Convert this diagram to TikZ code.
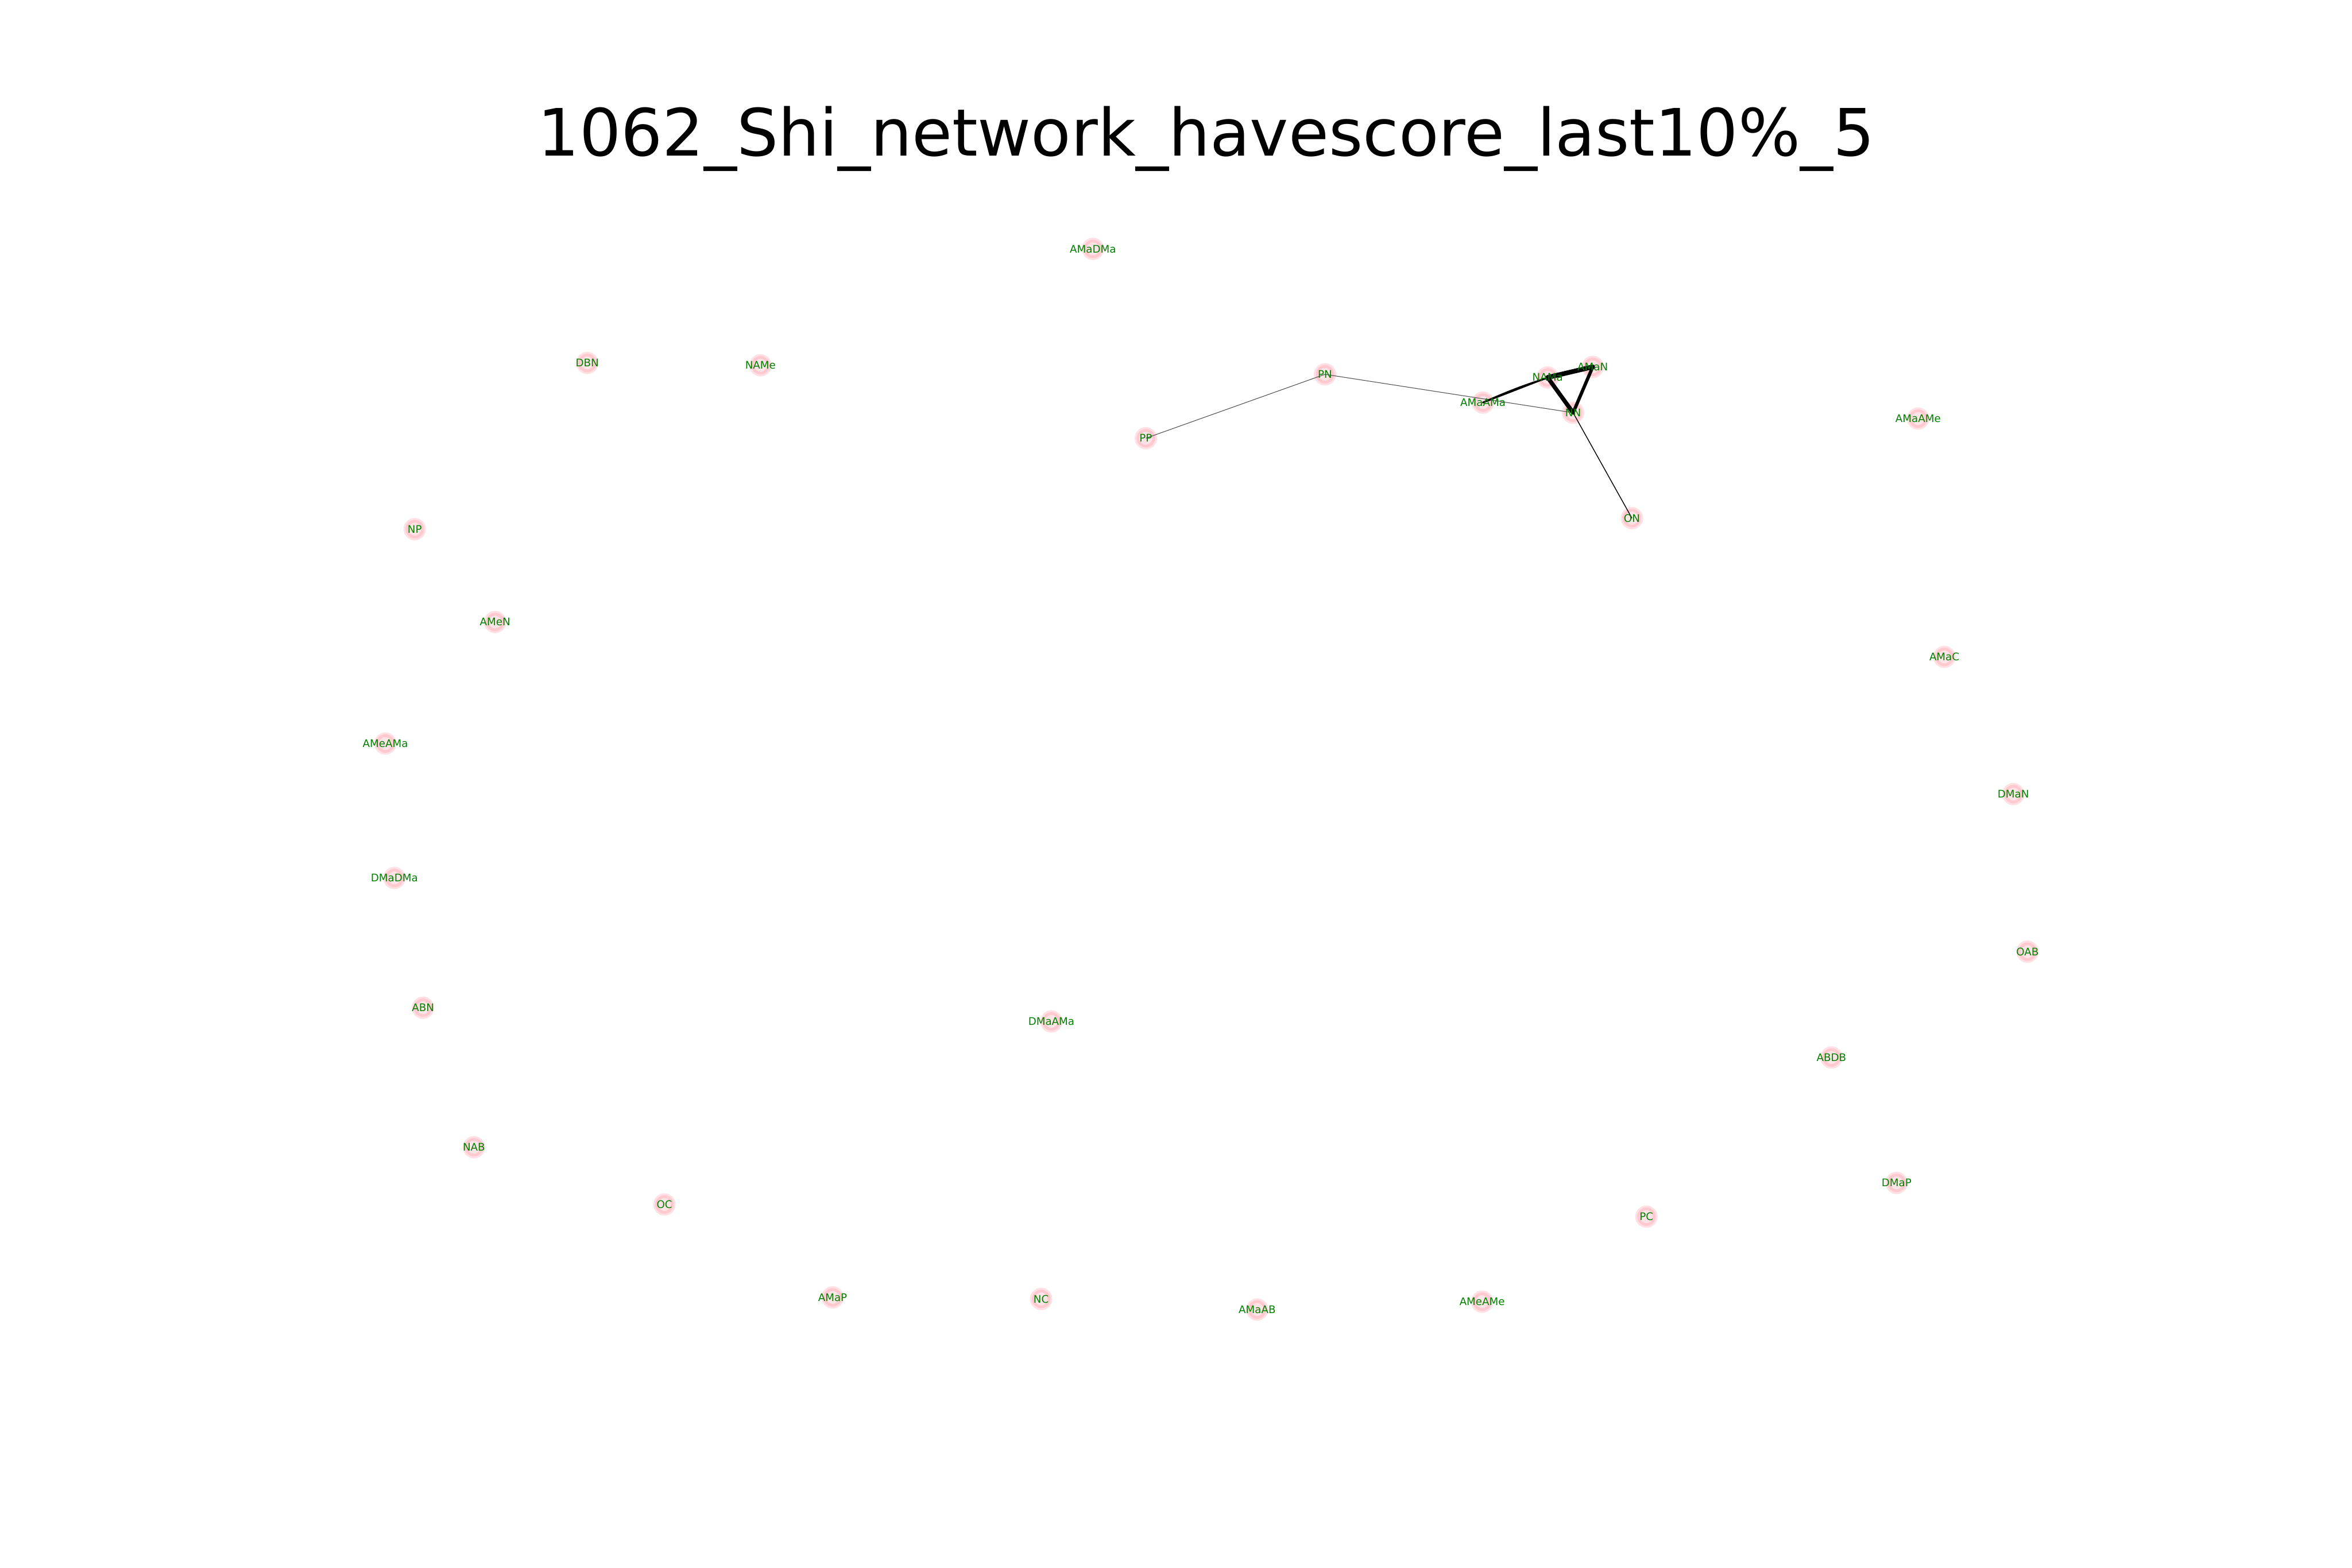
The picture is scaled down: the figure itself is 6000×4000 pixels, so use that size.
\documentclass[tikz,border=0pt]{standalone}
\usepackage{fontspec}
\setmainfont{DejaVu Sans}
\usepackage{xcolor}
\definecolor{labelgreen}{HTML}{008000}
\definecolor{nodeouter}{HTML}{FFE1E5}
\definecolor{nodering}{HTML}{FFC9CF}
\definecolor{nodeinner}{HTML}{FFE4E7}
\definecolor{thinedge}{HTML}{505050}
\newcommand{\labelfont}{\fontsize{7.6}{9}\selectfont}
\newcommand{\titlefont}{\fontsize{47.4}{57}\selectfont}

\begin{document}
\begin{tikzpicture}[
  x=0.01cm,
  y=-0.01cm,
  vtx/.style={circle, inner sep=0pt, minimum size=0.4cm, fill=nodeinner,
              draw=nodering, line width=0.07cm,
              preaction={draw=nodeouter, line width=0.17cm}},
  lbl/.style={inner sep=0pt, text=labelgreen, font=\labelfont},
  faint/.style={thinedge, line width=0.45pt},
  plain/.style={black, line width=0.6pt},
  heavy/.style={black, line width=#1, line cap=round}
]
  \useasboundingbox (0,0) rectangle (6000,4000);
  \fill[white] (0,0) rectangle (6000,4000);

  % ---- title -------------------------------------------------------------
  \node[anchor=base, inner sep=0pt, font=\titlefont] (title) at (3077,398)
    {1062\_Shi\_network\_havescore\_last10\%\_5};

  % ---- vertices ------------------------------------------------------------
  \foreach \n/\px/\py in {AMaDMa/2788/635, DBN/1498/926, NAMe/1940/932,
      PN/3380/955, PP/2923/1118, AMaAMa/3783/1027, NAMa/3948/963,
      AMaN/4063/936, NN/4013/1053, ON/4163/1322, AMaAMe/4893/1068,
      NP/1058/1350, AMeN/1263/1587, AMaC/4960/1676, AMeAMa/983/1897,
      DMaN/5136/2026, DMaDMa/1006/2240, OAB/5172/2428, ABN/1079/2571,
      DMaAMa/2682/2606, ABDB/4672/2698, NAB/1209/2927, DMaP/4838/3018,
      OC/1695/3073, PC/4200/3104, AMaP/2124/3310, NC/2656/3314,
      AMaAB/3207/3341, AMeAMe/3781/3321}
    \node[vtx] (\n) at (\px,\py) {};

  % ---- edges ---------------------------------------------------------------
  \draw[faint] (PP.center) -- (PN.center);
  \draw[faint] (PN.center) -- (NN.center);
  \draw[plain] (NN.center) -- (ON.center);
  \draw[heavy=1.2pt] (AMaAMa.center) -- (NAMa.center);
  \draw[heavy=1.2pt] (AMaAMa.center) to[bend left=6] (AMaN.center);
  \draw[heavy=3.4pt] (NAMa.center) -- (AMaN.center);
  \draw[heavy=3pt] (NAMa.center) -- (NN.center);
  \draw[heavy=2.4pt] (AMaN.center) -- (NN.center);

  % ---- labels --------------------------------------------------------------
  \foreach \n in {AMaDMa, DBN, NAMe, PN, PP, AMaAMa, NAMa, AMaN, NN, ON,
      AMaAMe, NP, AMeN, AMaC, AMeAMa, DMaN, DMaDMa, OAB, ABN, DMaAMa, ABDB,
      NAB, DMaP, OC, PC, AMaP, NC, AMaAB, AMeAMe}
    \node[lbl] at (\n.center) {\n};
\end{tikzpicture}
\end{document}
